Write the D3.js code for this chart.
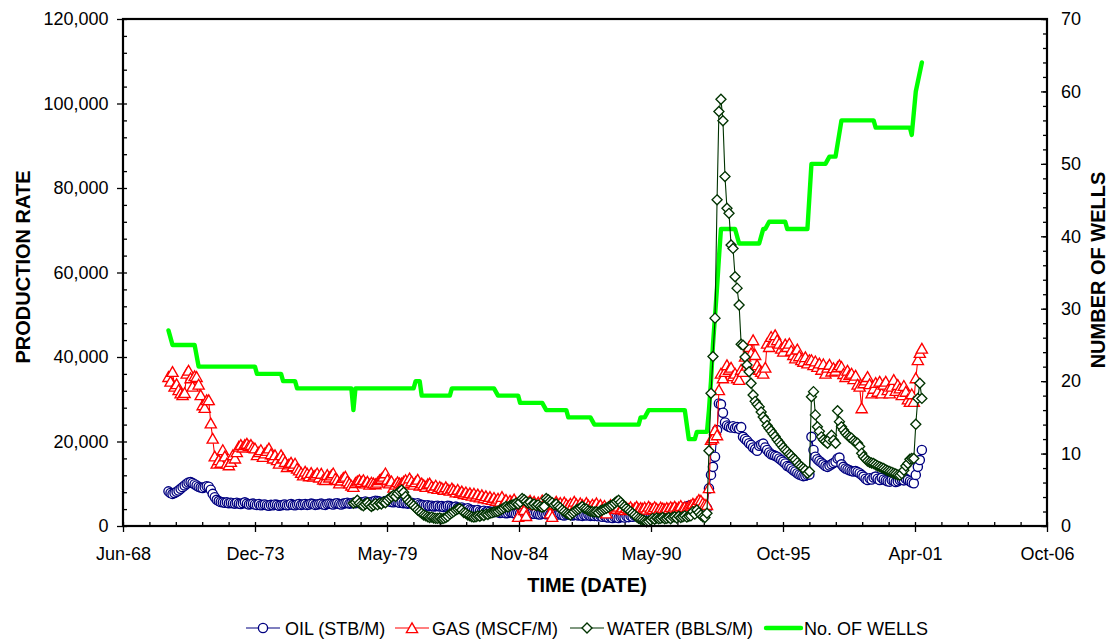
<!DOCTYPE html>
<html><head><meta charset="utf-8">
<script src="https://cdn.jsdelivr.net/npm/d3@7"></script>
<style>
html,body{margin:0;padding:0;background:#fff;}
svg{display:block;font-family:"Liberation Sans",Arial,Helvetica,sans-serif;}
</style></head><body>
<svg id="chart" width="1117" height="641"></svg>
<script>
// ---- Monthly production, in thousands per month ----
const oilStart = "1970-05";
const oilK = [
  8.2, 7.8, 7.6, 7.8, 8.1, 8.4, 8.8, 9.2,
  9.6, 10.0, 10.3, 10.4, 10.2, 9.9, 9.6, 9.3, 9.1, 9.0, 9.2, 9.4,
  9.3, 8.6, 7.6, 6.8, 6.2, 5.9, 5.7, 5.6, 5.5, 5.6, 5.4, 5.5,
  5.4, 5.3, 5.5, 5.3, 5.2, 5.4, 5.6, 5.3, 5.1, 5.2, 5.3, 5.1,
  5.0, 5.2, 4.9, 5.0, 5.1, 4.9, 4.8, 5.0, 4.9, 5.1, 5.0, 4.8,
  4.9, 5.0, 5.1, 4.9, 5.0, 5.2, 5.0, 4.9, 5.1, 5.2, 5.0, 5.1,
  5.2, 5.0, 5.1, 5.3, 5.2, 5.0, 5.1, 5.2, 5.3, 5.1, 5.0, 5.2,
  5.3, 5.2, 5.1, 5.3, 5.4, 5.2, 5.1, 5.3, 5.4, 5.5, 5.3, 5.4,
  5.5, 5.4, 5.6, 5.7, 5.5, 5.6, 5.8, 5.6, 5.5, 5.7, 5.8, 6.0,
  5.9, 5.8, 5.6, 5.7, 5.9, 6.0, 5.8, 5.7, 5.6, 5.8, 5.7, 5.5,
  5.6, 5.4, 5.5, 5.3, 5.4, 5.5, 5.3, 5.2, 5.4, 5.1, 5.0, 4.9,
  4.8, 4.9, 4.7, 4.8, 4.6, 4.7, 4.8, 4.6, 4.7, 4.5, 4.6, 4.8,
  4.7, 4.5, 4.4, 4.6, 4.3, 4.2, 4.4, 4.1, 4.0, 4.2, 3.9, 3.8,
  3.7, 3.6, 3.8, 3.5, 3.4, 3.6, 3.3, 3.5, 3.4, 3.2, 3.4, 3.3,
  3.3, 3.1, 3.2, 3.4, 3.0, 3.1, 3.3, 3.2, 3.0, 2.9, 3.1, 3.0,
  3.1, 2.9, 3.0, 3.2, 2.8, 3.0, 2.9, 3.1, 2.8, 2.7, 2.9, 3.0,
  2.8, 3.0, 2.7, 2.9, 2.6, 2.8, 2.7, 2.9, 2.6, 2.5, 2.7, 2.8,
  2.7, 2.5, 2.6, 2.8, 2.5, 2.6, 2.4, 2.6, 2.5, 2.7, 2.4, 2.5,
  2.4, 2.6, 2.3, 2.5, 2.2, 2.4, 2.1, 2.0, 2.2, 1.9, 2.1, 2.0,
  1.9, 2.1, 2.2, 2.0, 2.3, 2.1, 2.4, 2.2, 2.5, 2.3, 2.6, 2.4,
  2.5, 2.7, 2.6, 2.8, 2.9, 2.7, 3.0, 2.8, 3.1, 2.9, 3.2, 3.0,
  3.3, 3.1, 3.4, 3.6, 3.5, 3.8, 3.7, 4.0, 4.2, 4.4, 4.6, 4.8,
  4.9, 5.0, 4.7, 4.5, 4.8, 4.2, 3.8, 3.5, 4.2, 8.9, 12.1, 14.0,
  16.4, 22.7, 29.0, 28.8, 26.8, 24.5, 23.8, 23.5, 23.3, 23.6, 23.2, 23.4,
  23.0, 23.4, 21.1, 20.6, 20.2, 19.6, 19.2, 18.6, 18.2, 17.8, 19.0, 19.3,
  19.5, 18.6, 18.0, 17.4, 17.0, 16.8, 16.6, 16.4, 16.0, 15.6, 15.2, 14.8,
  14.2, 14.0, 13.6, 13.2, 12.9, 12.5, 12.2, 12.0, 11.8, 11.9, 12.1, 12.2,
  21.1, 18.0, 16.4, 15.8, 15.4, 15.0, 14.6, 14.2, 14.0, 14.3, 14.6, 14.9,
  15.2, 16.0, 16.2, 14.6, 14.0, 13.6, 13.4, 13.2, 13.0, 12.9, 13.0, 12.8,
  12.5, 12.1, 11.7, 11.2, 10.9, 11.3, 11.0, 11.5, 11.7, 11.2, 10.9, 11.4,
  11.0, 10.8, 10.6, 10.5, 10.9, 10.7, 10.4, 10.6, 10.9, 11.0, 10.8, 11.2,
  10.9, 10.6, 10.3, 10.1, 12.1, 14.0, 15.6, 18.0
];

const gasStart = "1970-05";
const gasK = [
  35.3, 34.2, 36.5, 33.0, 33.6, 32.2, 31.4, 31.0,
  31.5, 36.1, 36.8, 35.0, 33.0, 35.5, 35.3, 33.5, 31.0, 28.6, 28.0, 29.8,
  29.8, 24.3, 20.7, 16.5, 14.8, 15.6, 15.0, 18.0, 16.5, 14.8, 14.4, 15.2,
  16.8, 16.0, 17.5, 18.8, 19.2, 18.6, 19.2, 19.5, 19.0, 19.2, 18.6, 18.4,
  16.8, 17.5, 18.0, 16.4, 17.2, 17.8, 18.4, 17.0, 16.0, 16.8, 15.6, 14.8,
  16.8, 16.0, 15.2, 14.0, 14.6, 15.0, 14.2, 14.8, 13.6, 13.2, 12.6, 12.0,
  12.9, 12.4, 11.8, 12.6, 11.7, 12.0, 12.5, 11.5, 12.4, 11.0, 10.9, 12.1,
  11.5, 12.0, 12.5, 11.2, 10.9, 10.1, 10.8, 11.4, 11.7, 10.6, 10.1, 9.6,
  9.3, 10.2, 10.6, 10.9, 10.4, 10.9, 10.1, 10.5, 9.8, 10.3, 10.1, 9.9,
  10.3, 10.9, 11.2, 11.7, 12.5, 11.0, 10.1, 10.6, 9.1, 9.8, 10.4, 10.1,
  10.1, 10.5, 10.9, 10.2, 11.3, 10.6, 9.8, 10.4, 11.0, 9.6, 10.1, 9.7,
  9.3, 9.9, 10.1, 9.4, 9.0, 9.6, 8.8, 9.3, 9.0, 8.6, 9.2, 8.7,
  8.4, 8.9, 8.5, 8.0, 8.6, 7.9, 8.2, 7.6, 8.0, 7.4, 7.8, 7.2,
  7.7, 7.0, 7.5, 6.8, 7.3, 6.6, 7.1, 6.4, 6.9, 6.2, 6.7, 6.0,
  6.5, 5.8, 6.9, 5.6, 6.2, 5.4, 6.0, 5.7, 6.3, 5.5, 2.2, 5.8,
  5.2, 3.8, 2.4, 5.6, 6.0, 5.3, 5.8, 5.0, 5.6, 5.2, 6.1, 5.4,
  5.6, 5.0, 3.0, 2.2, 5.2, 5.8, 5.0, 5.5, 4.8, 5.6, 5.1, 4.7,
  5.3, 4.9, 5.8, 5.2, 4.6, 5.4, 5.0, 4.7, 5.5, 4.9, 4.4, 5.1,
  4.8, 5.4, 4.5, 5.0, 4.2, 4.8, 3.0, 4.5, 5.0, 4.3, 4.7, 4.1,
  4.6, 4.0, 4.4, 3.8, 4.3, 4.0, 4.5, 3.9, 4.2, 4.6, 4.0, 4.3,
  4.1, 4.4, 3.9, 4.6, 4.2, 4.0, 4.5, 4.1, 3.8, 4.4, 4.2, 4.0,
  4.3, 4.0, 4.5, 4.2, 4.6, 4.1, 4.4, 4.8, 4.2, 4.5, 4.3, 4.7,
  4.9, 5.3, 5.0, 5.6, 6.2, 6.0, 5.4, 5.1, 5.0, 9.0, 20.4, 20.8,
  22.7, 21.5, 32.2, 36.1, 35.0, 36.5, 38.1, 37.0, 37.5, 35.5, 36.1, 35.0,
  34.6, 37.0, 36.5, 40.1, 38.0, 42.4, 40.9, 44.0, 40.5, 38.1, 37.0, 36.5,
  36.1, 37.5, 43.2, 42.4, 44.8, 43.5, 45.2, 44.0, 43.2, 42.0, 41.3, 43.0,
  42.4, 43.2, 41.5, 40.5, 39.7, 41.8, 40.2, 39.3, 38.9, 40.0, 38.5, 39.3,
  39.3, 38.1, 39.0, 37.7, 38.5, 37.0, 38.3, 36.1, 37.5, 38.2, 36.6, 37.4,
  36.8, 37.6, 38.1, 37.7, 36.0, 35.3, 36.8, 35.8, 36.1, 34.8, 35.6, 33.5,
  33.0, 27.9, 33.8, 34.5, 35.3, 33.6, 31.4, 32.5, 33.9, 31.8, 34.2, 31.4,
  33.5, 34.2, 32.2, 31.4, 33.0, 34.6, 32.0, 33.4, 32.6, 31.0, 33.2, 31.8,
  30.0, 29.4, 31.2, 29.4, 35.0, 39.3, 41.0, 42.0
];

const waterStart = "1978-01";
const waterK = [
  5.4, 5.6, 6.1, 5.4, 5.0, 4.8, 5.2, 5.5, 5.0, 4.6, 4.9, 5.3,
  5.0, 5.4, 5.2, 5.7, 5.5, 6.1, 6.6, 6.9, 7.3, 7.0, 7.7, 8.2,
  8.5, 8.0, 7.0, 6.2, 5.7, 5.2, 4.8, 4.3, 3.8, 3.4, 3.0, 2.6,
  2.4, 2.2, 2.0, 2.1, 1.9, 1.8, 1.8, 1.9, 1.7, 1.8, 2.0, 2.3,
  2.8, 3.1, 3.4, 3.8, 4.0, 4.2, 3.8, 3.2, 3.0, 2.6, 2.4, 2.2,
  2.1, 2.2, 2.4, 2.3, 2.6, 2.5, 2.8, 2.7, 3.0, 3.1, 3.3, 3.4,
  3.5, 3.8, 4.0, 4.3, 4.6, 4.5, 4.8, 5.0, 5.1, 5.4, 5.2, 5.6,
  6.5, 6.2, 5.8, 5.4, 5.6, 5.0, 5.2, 4.8, 5.0, 4.6, 4.4, 4.6,
  6.5, 6.2, 5.8, 5.5, 5.0, 5.2, 4.6, 4.3, 3.8, 3.4, 3.0, 2.8,
  2.6, 3.0, 3.4, 3.8, 4.0, 4.3, 4.6, 4.2, 4.0, 3.7, 3.5, 3.4,
  3.3, 3.4, 3.2, 3.6, 3.8, 4.0, 4.2, 4.5, 4.8, 5.0, 5.4, 5.8,
  6.1, 5.6, 5.0, 4.6, 4.2, 3.8, 3.4, 3.0, 2.6, 2.2, 1.8, 1.6,
  1.4, 1.2, 1.0, 1.1, 1.4, 1.8, 1.6, 1.9, 1.7, 1.8, 2.0, 1.7,
  1.8, 2.0, 1.7, 2.1, 2.2, 1.9, 2.3, 2.0, 2.2, 2.4, 2.1, 2.3,
  2.4, 3.4, 2.8, 3.8, 3.2, 2.6, 2.2, 2.0, 3.0, 17.8, 31.4, 40.1,
  49.2, 77.2, 98.1, 101.0, 95.9, 82.7, 75.2, 74.0, 66.5, 65.7, 59.0, 56.3,
  52.3, 43.0, 42.8, 40.0, 38.1, 36.5, 33.8, 31.0, 29.5, 28.8, 28.2, 27.0,
  25.8, 25.1, 23.8, 23.1, 22.5, 21.8, 21.2, 20.4, 19.8, 19.2, 18.6, 18.0,
  17.6, 17.0, 16.6, 16.0, 15.6, 15.0, 14.4, 14.0, 13.6, 13.2, 12.5, 12.9,
  30.6, 31.8, 26.3, 23.5, 22.4, 21.1, 20.4, 20.0, 19.6, 20.5, 21.5, 20.3,
  19.6, 27.3, 24.7, 23.5, 22.7, 22.0, 21.5, 21.0, 20.8, 20.2, 19.8, 19.6,
  18.8, 17.2, 16.4, 15.9, 15.4, 15.1, 14.9, 14.8, 14.5, 14.2, 14.0, 13.8,
  13.6, 13.3, 13.1, 12.9, 12.7, 12.5, 12.3, 12.1, 12.0, 12.4, 13.2, 14.2,
  14.8, 15.8, 16.0, 16.0, 24.1, 30.2, 33.8, 30.2
];

// ---- Number of producing wells (month, count) ----
const wellMonths = [
  "1970-05","1970-07","1971-06","1971-08","1973-12","1974-01","1975-01","1975-02",
  "1975-08","1975-09","1977-12","1978-01","1978-02","1980-07","1980-08","1980-10",
  "1980-11","1982-01","1982-02","1983-11","1984-01","1984-11","1984-12","1985-11",
  "1986-01","1986-11","1986-12","1987-11","1988-01","1989-11","1989-12","1990-02",
  "1990-04","1991-10","1991-12","1992-03","1992-04","1992-09","1992-10","1992-11",
  "1992-12","1993-01","1993-02","1993-03","1993-04","1993-11","1994-01","1994-11",
  "1995-01","1995-02","1995-04","1995-12","1996-01","1996-11","1997-01","1997-08",
  "1997-10","1998-01","1998-04","1999-08","1999-09","2001-02","2001-03","2001-05",
  "2001-08"
];
const wellCounts = [
  27, 25, 25, 22, 22, 21, 21, 20,
  20, 19, 19, 16, 19, 19, 20, 20,
  18, 18, 19, 19, 18, 18, 17, 17,
  16, 16, 15, 15, 14, 14, 15, 15,
  16, 16, 12, 12, 13, 13, 16, 20,
  25, 29, 33, 37, 41, 41, 39, 39,
  41, 41, 42, 42, 41, 41, 50, 50,
  51, 51, 56, 56, 55, 55, 54, 60,
  64
];

// ---- Axis ticks ----
const xTickSerials = [25000, 27000, 29000, 31000, 33000, 35000, 37000, 39000]; // day serials, 1900 system
const xMinorStep = 400;
const yLeftTicks = [0, 20000, 40000, 60000, 80000, 100000, 120000];
const yLeftMinorStep = 4000;
const yRightTicks = [0, 10, 20, 30, 40, 50, 60, 70];
const yRightMinorStep = 2;

const legendLabels = ["OIL (STB/M)", "GAS (MSCF/M)", "WATER (BBLS/M)", "No. OF WELLS"];

// ---- Helpers ----
const serialToDate = s => new Date(Date.UTC(1899, 11, 30) + s * 864e5);
const parseMonth = d3.utcParse("%Y-%m");
const monthly = (start, vals) => vals.map((v, i) => ({
  date: d3.utcMonth.offset(parseMonth(start), i), value: v * 1000
}));

const oil = monthly(oilStart, oilK);
const gas = monthly(gasStart, gasK);
const water = monthly(waterStart, waterK);
const wells = wellMonths.map((m, i) => ({ date: parseMonth(m), value: wellCounts[i] }));

// ---- Layout ----
const L = 123, R = 1047, T = 19, B = 526;
const svg = d3.select("#chart");
svg.append("rect").attr("width", 1117).attr("height", 641).attr("fill", "#fff");

const x = d3.scaleUtc()
  .domain([serialToDate(xTickSerials[0]), serialToDate(xTickSerials[xTickSerials.length - 1])])
  .range([L, R]);
const yL = d3.scaleLinear().domain([0, 120000]).range([B, T]);
const yR = d3.scaleLinear().domain([0, 70]).range([B, T]);

const font = 18;
const tickColor = "#000";

// ---- Axes ----
// bottom: major ticks cross the axis, minor ticks inside
const xMajor = xTickSerials.map(serialToDate);
const xMinor = d3.range(xTickSerials[0], xTickSerials[xTickSerials.length - 1] + 1, xMinorStep).map(serialToDate);

const gxOut = svg.append("g").attr("transform", `translate(0,${B})`)
  .call(d3.axisBottom(x).tickValues(xMajor).tickSize(6).tickFormat(d3.utcFormat("%b-%y")));
gxOut.select(".domain").remove();
gxOut.selectAll("text").attr("y", 33.5).attr("dy", null)
  .attr("font-size", font).attr("font-family", "Liberation Sans, Arial").attr("fill", "#000");
gxOut.selectAll("line").attr("stroke", tickColor).attr("stroke-width", 1.3);

const gxIn = svg.append("g").attr("transform", `translate(0,${B})`)
  .call(d3.axisTop(x).tickValues(xMinor).tickSize(4).tickFormat(""));
gxIn.select(".domain").remove();
gxIn.selectAll("line").attr("stroke", tickColor).attr("stroke-width", 1.3);

// left: major ticks outside, minor inside
const gyL = svg.append("g").attr("transform", `translate(${L},0)`)
  .call(d3.axisLeft(yL).tickValues(yLeftTicks).tickSize(6).tickPadding(8.5).tickFormat(d3.format(",")));
gyL.select(".domain").remove();
gyL.selectAll("text").attr("font-size", font).attr("font-family", "Liberation Sans, Arial").attr("fill", "#000");
gyL.selectAll("line").attr("stroke", tickColor).attr("stroke-width", 1.3);

const gyLIn = svg.append("g").attr("transform", `translate(${L},0)`)
  .call(d3.axisRight(yL).tickValues(d3.range(0, 120001, yLeftMinorStep)).tickSize(4).tickFormat(""));
gyLIn.select(".domain").remove();
gyLIn.selectAll("line").attr("stroke", tickColor).attr("stroke-width", 1.3);

// right: ticks inside
const gyR = svg.append("g").attr("transform", `translate(${R},0)`)
  .call(d3.axisRight(yR).tickValues(yRightTicks).tickSize(0).tickPadding(14));
gyR.select(".domain").remove();
gyR.selectAll("text").attr("font-size", font).attr("font-family", "Liberation Sans, Arial").attr("fill", "#000");

const gyRMaj = svg.append("g").attr("transform", `translate(${R},0)`)
  .call(d3.axisLeft(yR).tickValues(yRightTicks).tickSize(6).tickFormat(""));
gyRMaj.select(".domain").remove();
gyRMaj.selectAll("line").attr("stroke", tickColor).attr("stroke-width", 1.3);
const gyRMin = svg.append("g").attr("transform", `translate(${R},0)`)
  .call(d3.axisLeft(yR).tickValues(d3.range(0, 71, yRightMinorStep)).tickSize(4).tickFormat(""));
gyRMin.select(".domain").remove();
gyRMin.selectAll("line").attr("stroke", tickColor).attr("stroke-width", 1.3);

// ---- Axis titles ----
svg.append("text").attr("x", (L + R) / 2 + 2).attr("y", 592)
  .attr("text-anchor", "middle").attr("font-size", 20).attr("font-weight", "bold")
  .text("TIME (DATE)");
svg.append("text").attr("transform", "translate(30,267) rotate(-90)")
  .attr("text-anchor", "middle").attr("font-size", 20).attr("font-weight", "bold")
  .text("PRODUCTION RATE");
svg.append("text").attr("transform", "translate(1105,270) rotate(-90)")
  .attr("text-anchor", "middle").attr("font-size", 20).attr("font-weight", "bold")
  .text("NUMBER OF WELLS");

// ---- Marker shapes ----
const markerPath = {
  circle: d3.symbol(d3.symbolCircle, Math.PI * 4.6 * 4.6)(),
  triangle: "M0,-5.2L5.6,4.6L-5.6,4.6Z",
  diamond: "M0,-5L5,0L0,5L-5,0Z"
};
const markerStroke = 1.35;

function drawMarkers(g, data, y, kind, color) {
  g.selectAll("path.m").data(data).join("path").attr("class", "m")
    .attr("d", markerPath[kind])
    .attr("fill", "#fff").attr("stroke", color).attr("stroke-width", markerStroke)
    .attr("transform", d => `translate(${x(d.date)},${y(d.value)})`);
}

const plot = svg.append("g");

// Wells line (secondary axis)
plot.append("path").datum(wells)
  .attr("fill", "none").attr("stroke", "#00ff00").attr("stroke-width", 4.4)
  .attr("stroke-linejoin", "round").attr("stroke-linecap", "round")
  .attr("d", d3.line().x(d => x(d.date)).y(d => yR(d.value)));

const series = [
  { data: oil, color: "#000080", kind: "circle" },
  { data: gas, color: "#ff0000", kind: "triangle" },
  { data: water, color: "#003300", kind: "diamond" }
];
series.forEach(s => {
  const g = plot.append("g");
  g.append("path").datum(s.data)
    .attr("fill", "none").attr("stroke", s.color).attr("stroke-width", 1.1)
    .attr("d", d3.line().x(d => x(d.date)).y(d => yL(d.value)));
  drawMarkers(g, s.data, yL, s.kind, s.color);
});

// ---- Plot frame ----
svg.append("rect").attr("x", L).attr("y", T).attr("width", R - L).attr("height", B - T)
  .attr("fill", "none").attr("stroke", "#000").attr("stroke-width", 2.2);

// ---- Legend ----
const legendY = 628;
const legendItems = [
  { sx: 246, tx: 285, color: "#000080", kind: "circle" },
  { sx: 395, tx: 432, color: "#ff0000", kind: "triangle" },
  { sx: 570, tx: 607, color: "#003300", kind: "diamond" },
  { sx: 766, tx: 804, color: "#00ff00", kind: "line" }
];
const lg = svg.append("g");
legendItems.forEach((it, i) => {
  const g = lg.append("g");
  if (it.kind === "line") {
    g.append("line").attr("x1", it.sx).attr("x2", it.sx + 35).attr("y1", legendY).attr("y2", legendY)
      .attr("stroke", it.color).attr("stroke-width", 4.4).attr("stroke-linecap", "round");
  } else {
    g.append("line").attr("x1", it.sx).attr("x2", it.sx + 34).attr("y1", legendY).attr("y2", legendY)
      .attr("stroke", it.color).attr("stroke-width", 1.2);
    g.append("path").attr("transform", `translate(${it.sx + 17},${legendY})`)
      .attr("d", markerPath[it.kind])
      .attr("fill", "#fff").attr("stroke", it.color).attr("stroke-width", markerStroke);
  }
  g.append("text").attr("x", it.tx).attr("y", legendY + 6.5).attr("font-size", font)
    .text(legendLabels[i]);
});
</script>
</body></html>
